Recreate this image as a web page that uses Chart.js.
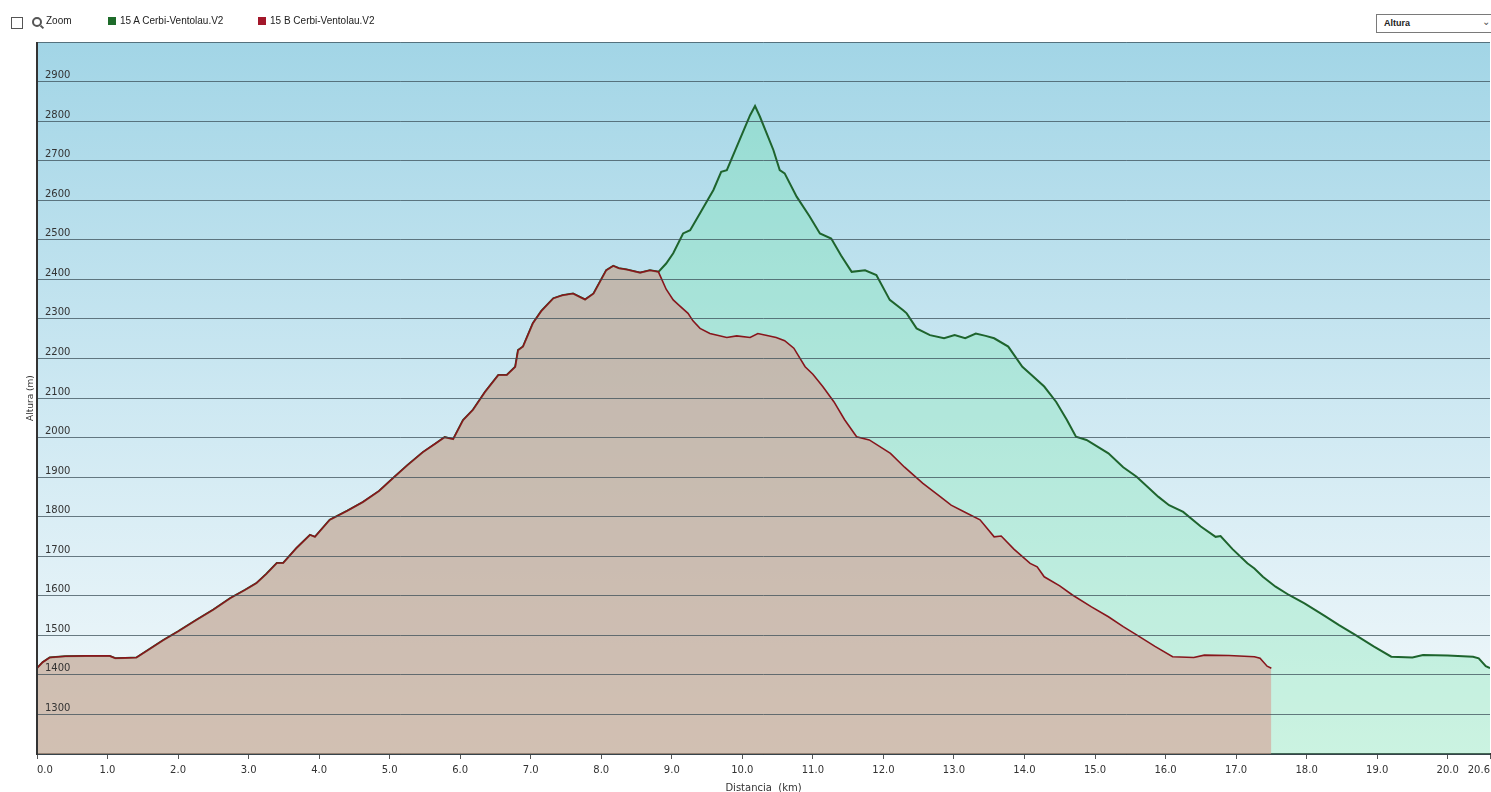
<!DOCTYPE html>
<html>
<head>
<meta charset="utf-8">
<script src="https://cdn.jsdelivr.net/npm/chart.js@4.4.1/dist/chart.umd.min.js"></script>
<style>
  body { margin: 0; background: #fff; font-family: "Liberation Sans", Arial, sans-serif; }
  #wrap { position: relative; width: 1491px; height: 792px; overflow: hidden; }
  #myChart { position: absolute; left: 0; top: 0; }
  .bar { position: absolute; top: 15px; font-size: 10px; color: #222; white-space: nowrap; }
  .chk { position: absolute; left: 11px; top: 17px; width: 10px; height: 10px; border: 1px solid #555; background: #fff; }
  .mag { position: absolute; left: 32px; top: 17px; width: 6px; height: 6px; border: 2px solid #555; border-radius: 50%; }
  .mag:after { content: ""; position: absolute; left: 6px; top: 7px; width: 4px; height: 2px; background: #555; transform: rotate(45deg); }
  .sq { display: inline-block; width: 8px; height: 8px; margin-right: 4px; vertical-align: -1px; }
  .sel { position: absolute; left: 1376px; top: 14px; width: 120px; height: 17px; border: 1px solid #7a7a7a; background: #fff; font-size: 9px; font-weight: bold; color: #222; }
  .sel span { position: absolute; left: 7px; top: 3px; }
  .sel b { position: absolute; left: 105px; top: 1px; font-weight: normal; font-size: 10px; color: #555; }
</style>
</head>
<body>
<div id="wrap">
  <canvas id="myChart" width="1491" height="792"></canvas>
  <div class="chk"></div>
  <div class="mag"></div>
  <div class="bar" style="left:46px;">Zoom</div>
  <div class="bar" style="left:108px;"><span class="sq" style="background:#1e6b2a"></span>15 A Cerbi-Ventolau.V2</div>
  <div class="bar" style="left:258px;"><span class="sq" style="background:#a3172a"></span>15 B Cerbi-Ventolau.V2</div>
  <div class="sel"><span>Altura</span><b>&#8964;</b></div>
</div>
<script>
// 15 A: distance (km) / altitude (m)
const DIST_A = [0.00, 0.08, 0.18, 0.40, 0.70, 1.03, 1.11, 1.25, 1.41, 1.55, 1.79, 2.00, 2.26, 2.50, 2.74, 2.95, 3.11, 3.25, 3.40, 3.49, 3.68, 3.87, 3.94, 4.15, 4.40, 4.62, 4.85, 5.05, 5.25, 5.47, 5.65, 5.78, 5.90, 6.04, 6.18, 6.35, 6.54, 6.66, 6.78, 6.82, 6.89, 7.03, 7.15, 7.32, 7.45, 7.60, 7.77, 7.89, 8.07, 8.17, 8.25, 8.36, 8.55, 8.69, 8.81,
  8.92, 9.02, 9.16, 9.26, 9.40, 9.59, 9.70, 9.78, 9.96, 10.11, 10.18, 10.25, 10.44, 10.53, 10.60, 10.77, 10.95, 11.10, 11.26, 11.40, 11.55, 11.74, 11.90, 12.09, 12.28, 12.33, 12.47, 12.66, 12.86, 13.01, 13.16, 13.31, 13.45, 13.57, 13.77, 13.97, 14.10, 14.28, 14.45, 14.60, 14.73, 14.88, 15.19, 15.40, 15.59, 15.90, 16.05, 16.25, 16.50, 16.71, 16.78, 16.95, 17.16, 17.26, 17.38, 17.56, 17.75, 17.97, 18.25, 18.46, 18.69, 18.95, 19.20, 19.50, 19.65, 20.00, 20.36, 20.44, 20.54, 20.60];
const ALT_A = [1417, 1432, 1444, 1447, 1448, 1448, 1442, 1443, 1444, 1460, 1488, 1510, 1539, 1565, 1594, 1615, 1632, 1655, 1683, 1683, 1721, 1754, 1749, 1792, 1815, 1837, 1865, 1898, 1930, 1963, 1985, 2001, 1996, 2044, 2070, 2115, 2158, 2158, 2179, 2221, 2230, 2289, 2320, 2352, 2360, 2364, 2349, 2364, 2423, 2434, 2428, 2425, 2417, 2423, 2419,
  2440, 2466, 2516, 2524, 2567, 2626, 2672, 2676, 2752, 2815, 2838, 2811, 2727, 2676, 2668, 2609, 2560, 2516, 2503, 2460, 2419, 2423, 2411, 2348, 2322, 2314, 2276, 2259, 2251, 2259, 2251, 2263, 2257, 2251, 2230, 2179, 2158, 2129, 2090, 2045, 2002, 1994, 1960, 1925, 1901, 1850, 1829, 1812, 1775, 1749, 1751, 1718, 1682, 1669, 1648, 1623, 1602, 1581, 1550, 1526, 1501, 1472, 1446, 1444, 1450, 1449, 1446, 1442, 1422, 1417];

// 15 B: distance (km) / altitude (m)
const DIST_B = [0.00, 0.08, 0.18, 0.40, 0.70, 1.03, 1.11, 1.25, 1.41, 1.55, 1.79, 2.00, 2.26, 2.50, 2.74, 2.95, 3.11, 3.25, 3.40, 3.49, 3.68, 3.87, 3.94, 4.15, 4.40, 4.62, 4.85, 5.05, 5.25, 5.47, 5.65, 5.78, 5.90, 6.04, 6.18, 6.35, 6.54, 6.66, 6.78, 6.82, 6.89, 7.03, 7.15, 7.32, 7.45, 7.60, 7.77, 7.89, 8.07, 8.17, 8.25, 8.36, 8.55, 8.69, 8.81,
  8.92, 9.02, 9.10, 9.23, 9.30, 9.40, 9.54, 9.78, 9.92, 10.11, 10.22, 10.35, 10.48, 10.60, 10.73, 10.89, 11.00, 11.14, 11.30, 11.45, 11.62, 11.80, 12.10, 12.30, 12.56, 12.81, 12.96, 13.15, 13.37, 13.57, 13.67, 13.85, 14.08, 14.18, 14.28, 14.50, 14.68, 14.95, 15.19, 15.40, 15.59, 15.85, 16.10, 16.40, 16.55, 16.90, 17.26, 17.34, 17.44, 17.50];
const ALT_B = [1417, 1432, 1444, 1447, 1448, 1448, 1442, 1443, 1444, 1460, 1488, 1510, 1539, 1565, 1594, 1615, 1632, 1655, 1683, 1683, 1721, 1754, 1749, 1792, 1815, 1837, 1865, 1898, 1930, 1963, 1985, 2001, 1996, 2044, 2070, 2115, 2158, 2158, 2179, 2221, 2230, 2289, 2320, 2352, 2360, 2364, 2349, 2364, 2423, 2434, 2428, 2425, 2417, 2423, 2419,
  2375, 2348, 2335, 2314, 2295, 2276, 2263, 2253, 2257, 2253, 2263, 2258, 2253, 2245, 2226, 2179, 2160, 2129, 2090, 2045, 2002, 1994, 1960, 1925, 1884, 1850, 1829, 1812, 1792, 1749, 1751, 1718, 1682, 1673, 1648, 1625, 1602, 1572, 1547, 1522, 1501, 1472, 1446, 1444, 1450, 1449, 1446, 1442, 1422, 1417];

const X_TICKS = [0, 1, 2, 3, 4, 5, 6, 7, 8, 9, 10, 11, 12, 13, 14, 15, 16, 17, 18, 19, 20, 20.6];

const toPoints = (xs, ys) => xs.map((x, i) => ({ x: x, y: ys[i] }));

// sky gradient behind the plot, dark left edge in front
const skyBackground = {
    id: 'skyBackground',
    beforeDraw(chart) {
        const { ctx, chartArea: a } = chart;
        const g = ctx.createLinearGradient(0, a.top, 0, a.bottom);
        g.addColorStop(0, '#a2d5e6');
        g.addColorStop(0.5, '#cde8f2');
        g.addColorStop(1, '#f4f9fb');
        ctx.save();
        ctx.fillStyle = g;
        ctx.fillRect(a.left, a.top, a.right - a.left, a.bottom - a.top);
        ctx.restore();
    },
    afterDraw(chart) {
        const { ctx, chartArea: a } = chart;
        ctx.save();
        ctx.strokeStyle = '#333';
        ctx.lineWidth = 2;
        ctx.beginPath();
        ctx.moveTo(a.left, a.top);
        ctx.lineTo(a.left, a.bottom + 1);
        ctx.stroke();
        ctx.restore();
    }
};

const myChart = new Chart(document.getElementById('myChart'), {
    type: 'line',
    data: {
        datasets: [
            {
                label: '15 B Cerbi-Ventolau.V2',
                data: toPoints(DIST_B, ALT_B),
                borderColor: 'rgb(135,22,28)',
                borderWidth: 1.6,
                backgroundColor: 'rgba(215,150,140,0.55)',
                fill: 'start',
                pointRadius: 0
            },
            {
                label: '15 A Cerbi-Ventolau.V2',
                data: toPoints(DIST_A, ALT_A),
                borderColor: 'rgb(30,100,45)',
                borderWidth: 2,
                backgroundColor: 'rgba(110,228,165,0.3)',
                fill: 'start',
                pointRadius: 0
            }
        ]
    },
    options: {
        responsive: false,
        animation: false,
        elements: { line: { tension: 0 } },
        layout: { padding: { top: 42, left: 17, right: 1, bottom: -2 } },
        plugins: {
            legend: { display: false },
            tooltip: { enabled: false }
        },
        scales: {
            x: {
                type: 'linear',
                min: 0,
                max: 20.6,
                afterBuildTicks: (scale) => { scale.ticks = X_TICKS.map(v => ({ value: v })); },
                afterFit: (scale) => { scale.paddingLeft = 0; scale.paddingRight = 0; },
                ticks: {
                    autoSkip: false,
                    maxRotation: 0,
                    align: 'inner',
                    padding: 5,
                    color: '#333',
                    font: { family: 'DejaVu Sans', size: 10 },
                    callback: (v) => Number(v).toFixed(1)
                },
                grid: { drawOnChartArea: false, drawTicks: true, tickLength: 5, color: '#555' },
                border: { display: true, color: '#333', width: 2 },
                title: {
                    display: true,
                    text: 'Distancia  (km)',
                    color: '#333',
                    font: { family: 'DejaVu Sans', size: 10 },
                    padding: { top: 1, bottom: 0 }
                }
            },
            y: {
                type: 'linear',
                position: 'left',
                min: 1200,
                max: 3000,
                afterFit: (scale) => { scale.width = 20; },
                ticks: {
                    stepSize: 100,
                    mirror: true,
                    padding: 8,
                    labelOffset: -6,
                    z: 1,
                    color: '#333',
                    font: { family: 'DejaVu Sans', size: 10 },
                    callback: (v) => (v === 1200 || v === 3000) ? '' : v
                },
                grid: { color: 'rgba(55,75,85,0.72)', lineWidth: 1, drawTicks: false, z: 1 },
                border: { display: false },
                title: {
                    display: true,
                    text: 'Altura (m)',
                    color: '#333',
                    font: { family: 'DejaVu Sans', size: 9 },
                    padding: { top: 8, bottom: 0 }
                }
            }
        }
    },
    plugins: [skyBackground]
});
</script>
</body>
</html>
